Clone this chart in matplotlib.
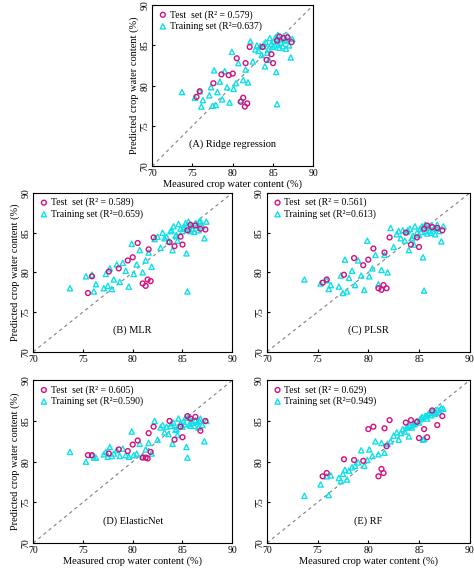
import matplotlib
matplotlib.use("Agg")
import matplotlib.pyplot as plt

plt.rcParams['font.family'] = ['Liberation Serif', 'DejaVu Serif']
plt.rcParams['font.size'] = 7

train_x = [73.7,75.3,75.9,76.1,76.3,77.1,77.3,77.5,77.7,77.9,78.1,78.4,78.7,79.0,79.3,79.6,79.9,80.1,80.4,80.7,81.0,81.3,81.6,81.9,82.2,82.5,82.8,83.0,83.2,83.4,83.6,83.8,84.0,84.1,84.3,84.5,84.6,84.8,85.0,85.1,85.3,85.4,85.5,85.6,85.8,85.9,86.0,86.2,86.3,86.5,86.6,86.8,87.0,87.2,87.4,85.2,84.4,83.9,86.7,85.7]
test_x = [75.5,75.9,77.6,78.6,79.5,80.0,80.5,81.0,81.3,81.5,81.6,81.8,82.1,83.7,84.2,84.8,85.0,85.5,85.8,86.3,86.8,87.3]

ridge_train = [79.2,78.5,79.3,77.4,78.2,78.8,79.8,77.5,81.9,77.6,79.2,80.5,78.3,81.8,79.8,77.9,84.2,79.6,80.3,82.8,78.2,80.7,82.0,80.4,85.5,83.0,84.5,85.0,84.3,84.9,83.8,84.9,82.4,85.4,84.1,83.2,85.9,85.2,84.8,85.5,86.0,81.7,77.7,86.3,84.7,85.8,85.3,84.9,86.1,85.7,84.6,86.2,85.0,83.5,85.8,85.0,84.5,85.2,85.6,85.1]
mlr_train = [78.0,79.5,79.7,77.6,78.5,78.0,79.8,78.3,80.5,77.9,79.1,81.0,78.8,81.2,80.2,78.2,83.6,79.8,81.0,82.8,80.0,81.5,82.5,80.7,84.2,84.5,83.1,85.0,84.3,84.5,83.9,85.2,82.8,85.8,84.6,84.0,86.1,85.5,85.2,85.6,86.2,82.4,77.6,86.4,85.2,85.9,85.5,85.1,86.2,86.0,85.3,86.5,85.8,84.3,86.4,85.7,84.7,85.3,86.4,85.4]
plsr_train = [79.1,78.6,79.0,77.9,78.4,78.2,79.6,77.4,81.6,77.6,79.3,80.2,78.4,81.5,79.6,77.8,84.0,79.5,80.5,82.2,78.5,80.3,82.2,80.0,85.6,83.2,84.8,85.2,84.3,85.3,84.0,85.1,82.8,85.5,84.3,83.5,85.8,85.0,84.7,85.5,85.8,81.9,77.7,86.0,84.9,85.7,85.2,85.0,85.9,85.6,84.8,86.0,85.2,83.9,85.8,85.1,84.6,85.3,85.5,85.2]
enet_train = [81.2,80.0,80.8,80.5,80.5,80.9,81.2,80.6,81.8,80.7,81.0,81.4,80.7,81.6,80.8,80.6,83.7,80.8,81.0,82.2,80.6,81.5,82.3,81.0,85.0,82.7,84.2,84.5,83.6,84.3,83.4,84.4,82.2,84.8,83.9,83.3,85.3,84.7,84.3,84.9,85.4,81.8,80.5,85.5,84.4,85.0,84.8,84.4,85.1,84.9,84.2,85.3,84.5,82.5,85.0,84.6,84.0,84.7,85.0,84.6]
rf_train = [75.8,77.2,78.2,75.9,78.3,78.0,77.6,78.5,79.0,77.8,78.9,79.3,79.5,79.9,81.4,79.5,80.2,81.5,80.7,82.5,80.9,82.3,81.1,82.2,82.5,83.2,83.6,82.7,83.5,84.0,83.7,84.3,83.1,84.4,84.2,84.6,84.7,85.0,84.8,85.2,85.5,82.7,82.8,85.6,85.3,85.8,86.0,85.7,86.2,86.1,85.9,86.4,86.3,86.6,86.5,85.3,84.6,84.2,86.0,85.6]

ridge_test = [78.6,79.3,80.3,81.4,81.3,81.5,83.4,78.0,78.5,77.4,82.8,77.8,84.8,84.8,83.2,83.9,82.8,85.6,86.1,85.9,86.0,85.4]
mlr_test = [77.4,79.5,80.1,80.5,81.5,81.9,83.7,78.6,78.3,79.1,82.9,78.9,84.4,83.8,83.3,84.5,83.5,85.3,86.0,85.9,85.5,85.4]
plsr_test = [78.7,79.1,79.7,81.8,80.9,81.6,83.0,78.0,77.8,78.4,82.5,78.0,84.4,85.0,83.5,84.4,83.2,85.5,85.9,85.7,85.6,85.3]
enet_test = [80.8,80.8,81.0,81.5,81.3,82.1,82.6,80.5,80.5,80.4,83.5,81.2,84.3,85.0,82.7,84.3,83.0,85.6,85.3,85.5,83.8,85.0]
rf_test = [78.2,78.6,80.3,80.2,80.1,84.0,84.3,78.2,79.1,78.6,84.1,81.9,85.1,84.8,85.1,84.9,82.9,84.0,83.0,86.3,84.5,85.6]

titles = ["(A) Ridge regression", "(B) MLR", "(C) PLSR", "(D) ElasticNet", "(E) RF"]
test_r2 = ["0.579", "0.589", "0.561", "0.605", "0.629"]
train_r2 = ["0.637", "0.659", "0.613", "0.590", "0.949"]
trains = [ridge_train, mlr_train, plsr_train, enet_train, rf_train]
tests = [ridge_test, mlr_test, plsr_test, enet_test, rf_test]
ticks = [70, 75, 80, 85, 90]

fig = plt.figure(figsize=(4.74, 5.71), dpi=100)
rects = [
    [0.321, 0.709, 0.340, 0.282],
    [0.070, 0.384, 0.420, 0.278],
    [0.563, 0.384, 0.428, 0.278],
    [0.070, 0.049, 0.420, 0.285],
    [0.563, 0.049, 0.428, 0.285],
]
ylab = [True, True, False, True, False]
xlab = [True, False, False, True, True]

for i, r in enumerate(rects):
    ax = fig.add_axes(r)
    ax.plot([70, 90], [70, 90], ls=(0, (3, 3)), color='gray', lw=0.8, zorder=0)
    ax.scatter(test_x, tests[i], s=12, marker='o', facecolors='none',
               edgecolors='#d4107f', linewidths=1.0, label=f"Test  set (R² = {test_r2[i]})", zorder=3)
    ax.scatter(train_x, trains[i], s=14, marker='^', facecolors='none',
               edgecolors='#10e0e8', linewidths=1.0, label=f"Training set (R²={train_r2[i]})", zorder=2)
    ax.set_xlim(70, 90)
    ax.set_ylim(70, 90)
    ax.set_xticks(ticks)
    ax.set_yticks(ticks)
    ax.tick_params(direction='in', length=2, labelsize=7, pad=2)
    for lab in ax.get_yticklabels():
        lab.set_rotation(90)
        lab.set_va('center')
    ax.text(0.5, 0.12, titles[i], transform=ax.transAxes, ha='center', fontsize=7.5)
    if ylab[i]:
        ax.set_ylabel("Predicted crop water content (%)", fontsize=7.5, labelpad=1)
    if xlab[i]:
        ax.set_xlabel("Measured crop water content (%)", fontsize=7.5, labelpad=1)
    ax.legend(loc='upper left', frameon=False, fontsize=7, handletextpad=0.1,
              borderaxespad=0.3, labelspacing=0.2, handlelength=1.2, borderpad=0.2)

fig.savefig("out.png", dpi=100)
